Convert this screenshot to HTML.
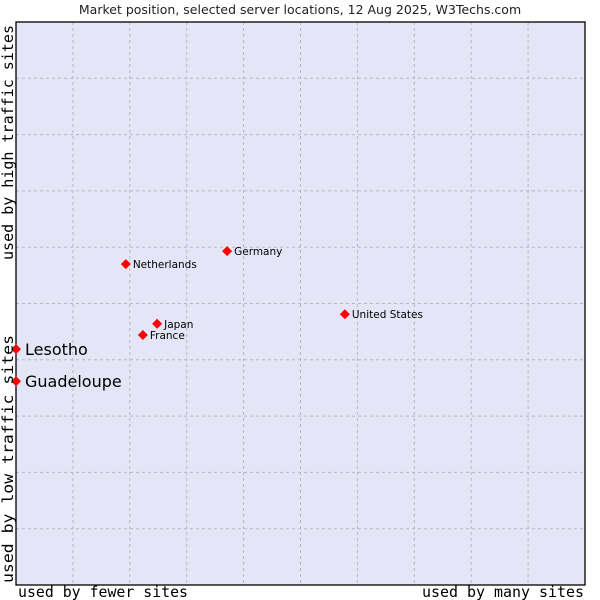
<!DOCTYPE html>
<html><head><meta charset="utf-8"><style>
body{margin:0;background:#fff;width:600px;height:600px;overflow:hidden}
svg{display:block}
</style></head><body>
<svg id="chart" width="600" height="600" xmlns="http://www.w3.org/2000/svg">
<text x="300" y="14" text-anchor="middle" font-family="DejaVu Sans, sans-serif" font-size="12.5" fill="#222">Market position, selected server locations, 12 Aug 2025, W3Techs.com</text>
<rect x="16" y="22" width="569" height="563" fill="#e4e6f8"/>
<g id="grid"></g>
<rect x="16" y="22" width="569" height="563" fill="none" stroke="#000" stroke-width="1.3"/>
<g id="points"></g>
<text x="18" y="597" textLength="170" lengthAdjust="spacingAndGlyphs" font-family="DejaVu Sans Mono, Liberation Mono, monospace" font-size="15" fill="#000">used by fewer sites</text>
<text x="422" y="597" textLength="162" lengthAdjust="spacingAndGlyphs" font-family="DejaVu Sans Mono, Liberation Mono, monospace" font-size="15" fill="#000">used by many sites</text>
<text transform="translate(13,583) rotate(-90)" textLength="248" lengthAdjust="spacingAndGlyphs" font-family="DejaVu Sans Mono, Liberation Mono, monospace" font-size="15" fill="#000">used by low traffic sites</text>
<text transform="translate(13,260) rotate(-90)" textLength="235" lengthAdjust="spacingAndGlyphs" font-family="DejaVu Sans Mono, Liberation Mono, monospace" font-size="15" fill="#000">used by high traffic sites</text>
</svg>
<script>
const names=["Lesotho","Guadeloupe","Netherlands","Germany","United States","Japan","France"];
const xVals=[0,0,1.93,3.71,5.78,2.48,2.23];
const yVals=[4.19,3.62,5.70,5.93,4.81,4.64,4.44];
const big=[true,true,false,false,false,false,false];
const NS="http://www.w3.org/2000/svg";
const L=16,R=585,T=22,B=585;
const xs=v=>L+v*(R-L)/10;
const ys=v=>B-v*(B-T)/10;
const grid=document.getElementById('grid');
for(let i=1;i<10;i++){
  const v=document.createElementNS(NS,'line');
  v.setAttribute('x1',xs(i));v.setAttribute('x2',xs(i));v.setAttribute('y1',T);v.setAttribute('y2',B);
  v.setAttribute('stroke','#b8b8b8');v.setAttribute('stroke-dasharray','3,3');
  
  
  grid.appendChild(v);
  const h=document.createElementNS(NS,'line');
  h.setAttribute('y1',ys(i));h.setAttribute('y2',ys(i));h.setAttribute('x1',L);h.setAttribute('x2',R);
  h.setAttribute('stroke','#b8b8b8');h.setAttribute('stroke-dasharray','3,3');
  
  
  grid.appendChild(h);
}
const pts=document.getElementById('points');
names.forEach((n,i)=>{
  const x=xs(xVals[i]),y=ys(yVals[i]);
  const p=document.createElementNS(NS,'path');
  p.setAttribute('d',`M${x-5},${y} L${x},${y-5} L${x+5},${y} L${x},${y+5}Z`);
  p.setAttribute('fill','#f00');
  
  
  pts.appendChild(p);
  const t=document.createElementNS(NS,'text');
  t.setAttribute('x',x+(big[i]?9:7));t.setAttribute('y',y+(big[i]?6:4));
  t.setAttribute('font-family','DejaVu Sans, sans-serif');
  t.setAttribute('font-size',big[i]?'16':'10.5');
  t.setAttribute('fill','#000');
  t.textContent=n;
  
  
  pts.appendChild(t);
});
</script>
</body></html>
